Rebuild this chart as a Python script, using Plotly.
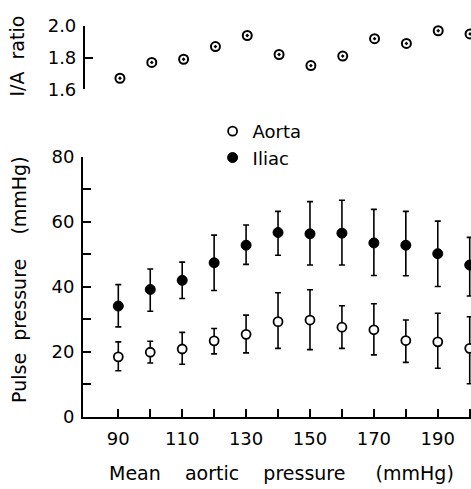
import plotly.graph_objects as go

# Mean aortic pressure (mmHg)
pressure = [90, 100, 110, 120, 130, 140, 150, 160, 170, 180, 190, 200]

# I/A ratio (top panel)
ia_ratio = [1.67, 1.77, 1.79, 1.87, 1.94, 1.82, 1.75, 1.81, 1.92, 1.89, 1.97, 1.95]

# Aorta pulse pressure: mean, upper and lower error bar ends
aorta_mean = [18.5, 19.9, 20.9, 23.4, 25.4, 29.3, 29.8, 27.6, 26.8, 23.5, 23.1, 21.1]
aorta_hi = [23.1, 23.3, 26.0, 27.2, 31.3, 38.2, 39.1, 34.2, 34.8, 29.8, 31.9, 30.8]
aorta_lo = [14.2, 16.6, 16.2, 19.4, 19.7, 21.1, 20.7, 21.1, 19.1, 16.8, 15.0, 10.2]

# Iliac pulse pressure
iliac_mean = [34.1, 39.2, 42.0, 47.4, 52.8, 56.7, 56.3, 56.5, 53.5, 52.8, 50.2, 46.7]
iliac_hi = [40.7, 45.5, 47.6, 55.9, 59.0, 63.2, 66.2, 66.6, 63.8, 63.2, 60.2, 55.2]
iliac_lo = [27.7, 32.5, 36.4, 38.9, 46.9, 49.7, 46.7, 46.7, 43.5, 43.4, 40.1, 37.2]

x_ticks = list(range(90, 201, 10))
x_ticktext = [str(v) if v % 20 == 10 else "" for v in x_ticks]
y_ticks = list(range(0, 81, 10))
y_ticktext = [str(v) if v % 20 == 0 else "" for v in y_ticks]
ratio_ticks = [1.6, 1.8, 2.0]
ratio_ticktext = ["1.6", "1.8", "2.0"]

FONT = "DejaVu Sans"
BLACK = "#000000"
SP = "&nbsp;"


def err(mean, hi, lo):
    plus = [h - m for h, m in zip(hi, mean)]
    minus = [m - l for m, l in zip(mean, lo)]
    return dict(type="data", symmetric=False, array=plus, arrayminus=minus,
                color=BLACK, thickness=1.6, width=3)


fig = go.Figure()

fig.add_trace(go.Scatter(
    x=pressure, y=iliac_mean, mode="markers", name="Iliac",
    marker=dict(symbol="circle", size=10, color=BLACK, line=dict(color=BLACK, width=1)),
    error_y=err(iliac_mean, iliac_hi, iliac_lo),
    cliponaxis=False, xaxis="x", yaxis="y",
))
fig.add_trace(go.Scatter(
    x=pressure, y=aorta_mean, mode="markers", name="Aorta",
    marker=dict(symbol="circle", size=9, color="white", line=dict(color=BLACK, width=1.8)),
    error_y=err(aorta_mean, aorta_hi, aorta_lo),
    cliponaxis=False, xaxis="x", yaxis="y",
))
fig.add_trace(go.Scatter(
    x=pressure, y=ia_ratio, mode="markers", name="I/A ratio", showlegend=False,
    marker=dict(symbol="circle-open-dot", size=9, color=BLACK, line=dict(color=BLACK, width=2)),
    cliponaxis=False, xaxis="x2", yaxis="y2",
))

fig.update_layout(
    width=471, height=489,
    margin=dict(l=83, r=0, t=26, b=72, pad=0),
    paper_bgcolor="white", plot_bgcolor="white",
    font=dict(family=FONT, size=18, color=BLACK),
    showlegend=True,
    legend=dict(x=0.334, y=0.697, xanchor="left", yanchor="middle",
                traceorder="reversed", font=dict(size=18),
                bgcolor="rgba(0,0,0,0)", itemwidth=30, tracegroupgap=0),
    xaxis=dict(domain=[0, 1], range=[78.95, 200.4], anchor="y",
               tickmode="array", tickvals=x_ticks, ticktext=x_ticktext,
               ticks="inside", ticklen=8, tickwidth=1.5, tickcolor=BLACK,
               showline=True, linewidth=2, linecolor=BLACK,
               showgrid=False, zeroline=False, ticklabelstandoff=4),
    yaxis=dict(domain=[0, 0.6657], range=[0, 80], anchor="x",
               tickmode="array", tickvals=y_ticks, ticktext=y_ticktext,
               ticks="inside", ticklen=8, tickwidth=1.5, tickcolor=BLACK,
               showline=True, linewidth=2, linecolor=BLACK,
               showgrid=False, zeroline=False, ticklabelstandoff=3),
    xaxis2=dict(domain=[0.005, 1], range=[79.0, 200.3], anchor="y2",
                visible=False, showgrid=False, zeroline=False),
    yaxis2=dict(domain=[0.838, 1], range=[1.6, 2.0], anchor="x2",
                tickmode="array", tickvals=ratio_ticks, ticktext=ratio_ticktext,
                ticks="inside", ticklen=8, tickwidth=1.5, tickcolor=BLACK,
                showline=True, linewidth=2, linecolor=BLACK,
                showgrid=False, zeroline=False, ticklabelstandoff=3),
    annotations=[
        dict(text="Pulse" + SP * 2 + "pressure" + SP * 4 + "(mmHg)", textangle=-90,
             xref="paper", yref="paper", x=-0.165, y=0.353, xanchor="center", yanchor="middle",
             showarrow=False, font=dict(size=19)),
        dict(text="I/A" + SP * 2 + "ratio", textangle=-90,
             xref="paper", yref="paper", x=-0.170, y=0.922, xanchor="center", yanchor="middle",
             showarrow=False, font=dict(size=19)),
        dict(text="Mean" + SP * 4 + "aortic" + SP * 4 + "pressure" + SP * 5 + "(mmHg)",
             xref="paper", yref="paper", x=0.5116, y=-0.143, xanchor="center", yanchor="middle",
             showarrow=False, font=dict(size=19)),
    ],
)

fig.write_html(
    "out.html",
    config={"displayModeBar": False},
    post_script="document.body.style.margin='0';document.body.style.overflow='hidden';",
)
